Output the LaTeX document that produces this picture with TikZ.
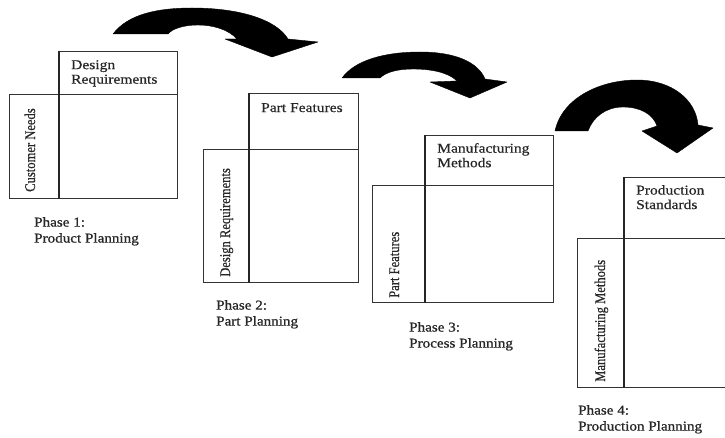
\documentclass[tikz,border=0pt]{standalone}
\usepackage{fontspec}
\setmainfont{Liberation Serif}
\newfontfamily\hfont{Liberation Serif}[FakeStretch=1.15,FakeBold=0.5]
\newfontfamily\pfont{Liberation Serif}[FakeStretch=1.12,FakeBold=0.9]
\newfontfamily\vfont{Liberation Serif}[FakeStretch=0.85,FakeBold=0.5]
\begin{document}
\begin{tikzpicture}[x=1pt,y=-1pt,
  cell/.style={draw=black!80,line width=0.9pt,inner sep=0pt,anchor=north west},
  divider/.style={draw=black!85,line width=1.7pt},
  head/.style={inner sep=0pt,anchor=north west,align=left,text=black!85,font=\hfont\fontsize{13.5}{14.5}\selectfont},
  phase/.style={inner sep=0pt,anchor=north west,align=left,text=black!85,font=\pfont\fontsize{13.5}{16}\selectfont},
  rowlab/.style={inner sep=0pt,anchor=base west,rotate=90,text=black!85,font=\vfont\fontsize{14.8}{15}\selectfont},
  bigarrow/.style={fill=black,draw=black,line width=0.4pt,line join=round}]
\useasboundingbox (0,0) rectangle (725,438);
\clip (0,0) rectangle (725,438);

% Phase 1
\node[cell,minimum width=118pt,minimum height=43pt] (hdr1) at (59,51) {};
\node[cell,minimum width=50pt,minimum height=104pt] (lab1) at (9,94) {};
\node[cell,minimum width=118pt,minimum height=104pt] (main1) at (59,94) {};
\draw[divider] (hdr1.north west) -- (main1.south west);
\node[head] (h1t) at (71,60) {Design\\Requirements};
\node[rowlab] (r1t) at (35,192) {Customer Needs};
\node[phase] (p1t) at (34,217) {Phase 1:\\Product Planning};

% Phase 2
\node[cell,minimum width=109pt,minimum height=56pt] (hdr2) at (249,93) {};
\node[cell,minimum width=46pt,minimum height=133pt] (lab2) at (203,149) {};
\node[cell,minimum width=109pt,minimum height=133pt] (main2) at (249,149) {};
\draw[divider] (hdr2.north west) -- (main2.south west);
\node[head] (h2t) at (261,103) {Part Features};
\node[rowlab] (r2t) at (230,277) {Design Requirements};
\node[phase] (p2t) at (216,300) {Phase 2:\\Part Planning};

% Phase 3
\node[cell,minimum width=128pt,minimum height=50pt] (hdr3) at (425,135) {};
\node[cell,minimum width=53pt,minimum height=117pt] (lab3) at (372,185) {};
\node[cell,minimum width=128pt,minimum height=117pt] (main3) at (425,185) {};
\draw[divider] (hdr3.north west) -- (main3.south west);
\node[head] (h3t) at (437,143) {Manufacturing\\Methods};
\node[rowlab] (r3t) at (399,298) {Part Features};
\node[phase] (p3t) at (409,322) {Phase 3:\\Process Planning};

% Phase 4
\node[cell,minimum width=120pt,minimum height=61pt] (hdr4) at (624,177) {};
\node[cell,minimum width=47pt,minimum height=149pt] (lab4) at (577,238) {};
\node[cell,minimum width=120pt,minimum height=149pt] (main4) at (624,238) {};
\draw[divider] (hdr4.north west) -- (main4.south west);
\node[head] (h4t) at (636,185) {Production\\Standards};
\node[rowlab] (r4t) at (605,382) {Manufacturing Methods};
\node[phase] (p4t) at (578,405) {Phase 4:\\Production Planning};

% Curved arrows
\fill[bigarrow] (113,34) .. controls (128,14) and (158,8) .. (192,8)
  .. controls (238,8) and (276,19) .. (288,39) -- (318,42) -- (272,57) -- (225,39) -- (237,39)
  .. controls (228,29) and (212,25) .. (198,25)
  .. controls (183,25) and (172,29) .. (168,34) -- cycle;

\fill[bigarrow] (342,78) .. controls (355,60) and (385,52) .. (420,52)
  .. controls (455,52) and (478,62) .. (485,79) -- (507,82) -- (470,98) -- (430,82) -- (457,81)
  .. controls (448,72) and (430,69) .. (413,69)
  .. controls (398,69) and (386,72) .. (380,78) -- cycle;

\fill[bigarrow] (555,131) .. controls (562,98) and (600,80) .. (637,80)
  .. controls (672,80) and (696,100) .. (698,125) -- (713,128) -- (677,153) -- (642,131) -- (657,126)
  .. controls (653,114) and (640,107) .. (623,107)
  .. controls (606,107) and (593,117) .. (588,131) -- cycle;
\end{tikzpicture}
\end{document}
